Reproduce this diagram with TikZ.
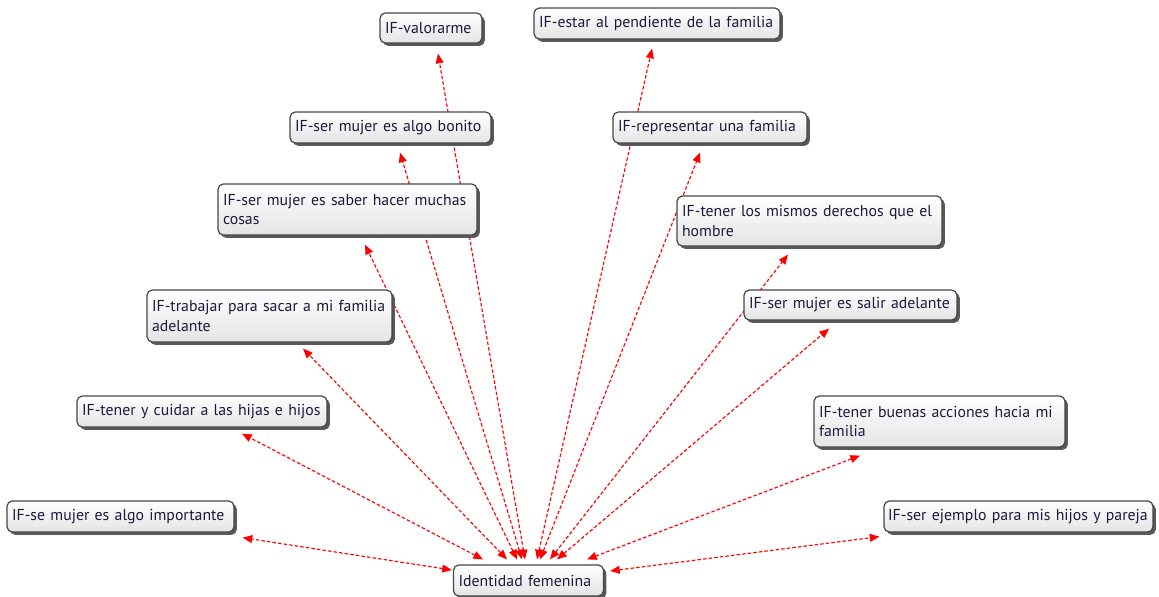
\documentclass[tikz,border=0pt]{standalone}
\usepackage{fontspec}
\setmainfont{PT Sans}
\usetikzlibrary{shadows,calc,arrows.meta}
\definecolor{txt}{RGB}{30,25,60}
\definecolor{bord}{RGB}{70,70,70}
\definecolor{fillb}{RGB}{228,228,228}
\definecolor{lnk}{RGB}{255,0,0}
\pgfdeclarelayer{bg}
\pgfsetlayers{bg,main}
\tikzset{
  box/.style={draw=bord, line width=0.7pt, rounded corners=3pt,
    top color=white, bottom color=fillb, text=txt,
    font=\fontsize{9}{11.2}\selectfont, align=left,
    inner xsep=0.1cm, inner ysep=0pt,
    drop shadow={shadow xshift=1.6pt, shadow yshift=-1.6pt, fill=black!65, opacity=1}},
  link/.style={draw=lnk, line width=0.65pt, dash pattern=on 2pt off 1.2pt,
    {Triangle[length=5.5pt,width=4.5pt]}-{Triangle[length=5.5pt,width=4.5pt]}}
}
\begin{document}
\begin{tikzpicture}[x=0.02cm,y=-0.02cm]
\useasboundingbox (0,0) rectangle (1159,596);
\node[box, minimum width=2.04cm, minimum height=0.60cm, text width=1.84cm] (n1) at (431,28) {IF-valorarme};
\node[box, minimum width=4.92cm, minimum height=0.62cm, text width=4.72cm] (n2) at (657,23.5) {IF-estar al pendiente de la familia};
\node[box, minimum width=4.02cm, minimum height=0.62cm, text width=3.82cm] (n3) at (390.5,127.5) {IF-ser mujer es algo bonito};
\node[box, minimum width=3.88cm, minimum height=0.62cm, text width=3.68cm] (n4) at (710,127.5) {IF-representar una familia};
\node[box, minimum width=5.18cm, minimum height=1.02cm, text width=4.98cm] (n5) at (347.5,209.5) {IF-ser mujer es saber hacer muchas\\cosas};
\node[box, minimum width=5.30cm, minimum height=1.00cm, text width=5.10cm] (n6) at (809.5,221) {IF-tener los mismos derechos que el\\hombre};
\node[box, minimum width=4.90cm, minimum height=1.04cm, text width=4.70cm] (n7) at (269.5,316) {IF-trabajar para sacar a mi familia\\adelante};
\node[box, minimum width=4.26cm, minimum height=0.60cm, text width=4.06cm] (n8) at (850.5,305) {IF-ser mujer es salir adelante};
\node[box, minimum width=5.00cm, minimum height=0.62cm, text width=4.80cm] (n9) at (202,411.5) {IF-tener y cuidar a las hijas e hijos};
\node[box, minimum width=5.02cm, minimum height=1.02cm, text width=4.82cm] (n10) at (939.5,421.5) {IF-tener buenas acciones hacia mi\\familia};
\node[box, minimum width=4.54cm, minimum height=0.62cm, text width=4.34cm] (n11) at (120.5,516.5) {IF-se mujer es algo importante};
\node[box, minimum width=5.38cm, minimum height=0.62cm, inner xsep=0.08cm, text width=5.22cm] (n12) at (1018.5,516.5) {IF-ser ejemplo para mis hijos y pareja};
\node[box, minimum width=3.00cm, minimum height=0.62cm, text width=2.80cm] (c) at (528.5,580.5) {Identidad femenina};
\begin{pgfonlayer}{bg}
\draw[link] ($(c.north)+(-45.5,-5)$) -- ($(n9.south)+(40,6)$);
\draw[link] ($(c.north)+(-21.5,-5)$) -- ($(n7.south)+(33.5,6)$);
\draw[link] ($(c.north)+(-11.5,-5)$) -- ($(n5.south)+(17.5,9)$);
\draw[link] ($(c.north)+(-6.5,-5)$) -- ($(n3.south)+(9.5,9)$);
\draw[link] ($(c.north)+(-3.5,-5)$) -- ($(n1.south)+(7,10)$);
\draw[link] ($(c.north)+(8.5,-5)$) -- ($(n2.south)+(-5,9)$);
\draw[link] ($(c.north)+(11.5,-5)$) -- ($(n4.south)+(-10,9)$);
\draw[link] ($(c.north)+(21.5,-5)$) -- ($(n6.south)+(-21.5,8)$);
\draw[link] ($(c.north)+(28.5,-5)$) -- ($(n8.south)+(-21.5,8)$);
\draw[link] ($(c.north)+(58.5,-5)$) -- ($(n10.south)+(-79.5,8)$);
\draw[link] ($(c.west)+(-1,-10.5)$) -- ($(n11.south east)+(8,5)$);
\draw[link] ($(c.east)+(6,-9.5)$) -- ($(n12.south west)+(-4,4)$);
\end{pgfonlayer}
\end{tikzpicture}
\end{document}
